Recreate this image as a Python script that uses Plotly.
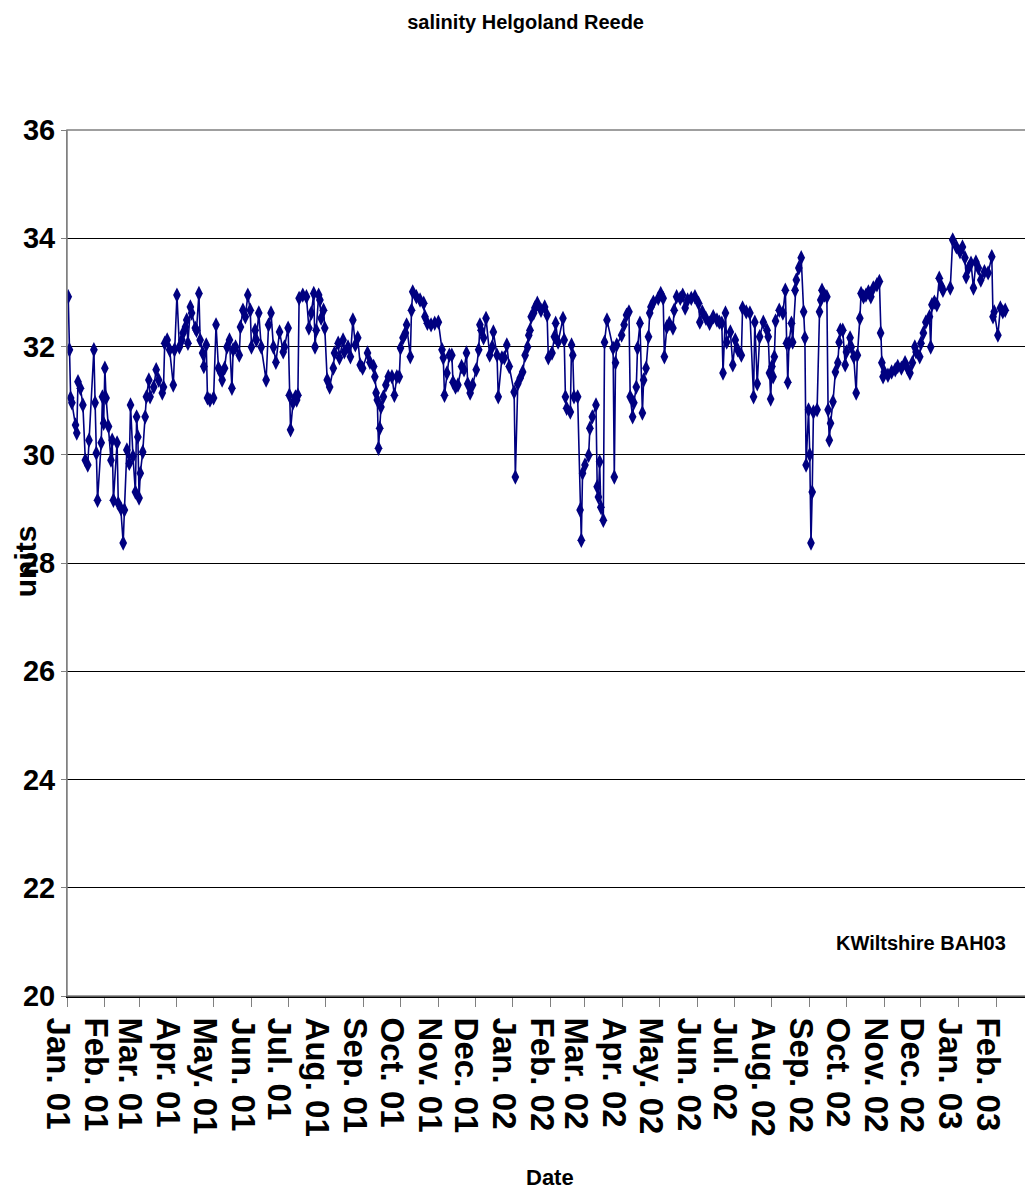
import pandas as pd
import plotly.graph_objects as go

# ---- data ----
start_date = "2001-01-01"
day_offsets = [
    1, 2, 3, 4, 7, 8, 9, 11, 13, 15, 17, 18, 22, 23, 24, 25, 28, 29, 30, 31,
    32, 34, 36, 37, 38, 41, 42, 44, 46, 47, 49, 51, 52, 54, 56, 57, 58, 59, 60, 62,
    64, 65, 67, 68, 71, 73, 75, 78, 79, 80, 82, 84, 87, 88, 90, 92, 94, 95, 97, 98,
    99, 101, 102, 105, 106, 108, 109, 111, 112, 114, 115, 117, 120, 122, 124, 126, 127, 129, 131, 133,
    135, 136, 138, 141, 142, 144, 146, 148, 150, 151, 154, 155, 157, 159, 163, 165, 167, 169, 171, 174,
    177, 178, 181, 182, 183, 185, 187, 188, 189, 190, 193, 196, 198, 200, 202, 203, 204, 206, 207, 208,
    210, 211, 213, 215, 218, 219, 222, 223, 226, 227, 230, 232, 234, 236, 238, 240, 242, 246, 248, 251,
    252, 253, 254, 255, 256, 257, 259, 261, 263, 266, 268, 270, 272, 273, 275, 277, 278, 281, 282, 283,
    286, 289, 292, 293, 295, 298, 301, 304, 307, 308, 309, 311, 313, 315, 316, 318, 320, 323, 325, 327,
    328, 330, 332, 335, 337, 338, 339, 341, 343, 346, 348, 349, 352, 353, 356, 358, 360, 362, 366, 367,
    369, 371, 373, 375, 377, 378, 379, 380, 382, 383, 385, 388, 391, 393, 394, 397, 399, 400, 402, 406,
    407, 408, 409, 412, 413, 414, 415, 418, 420, 421, 422, 424, 427, 428, 430, 433, 434, 435, 436, 437,
    439, 440, 442, 447, 448, 449, 450, 454, 456, 458, 460, 461, 463, 464, 466, 467, 469, 471, 472, 474,
    476, 477, 478, 480, 484, 486, 488, 489, 491, 493, 496, 497, 499, 502, 504, 506, 508, 511, 514, 517,
    518, 520, 523, 526, 529, 532, 534, 536, 537, 539, 540, 543, 545, 547, 549, 552, 553, 556, 559, 562,
    563, 565, 567, 570, 573, 574, 575, 576, 577, 578, 579, 580, 583, 586, 588, 589, 590, 591, 593, 594,
    596, 597, 599, 601, 603, 604, 605, 607, 608, 609, 610, 611, 614, 616, 617, 618, 620, 622, 623, 624,
    625, 627, 629, 631, 632, 633, 635, 637, 638, 641, 642, 644, 646, 647, 649, 650, 652, 654, 656, 658,
    660, 663, 665, 666, 667, 668, 669, 672, 675, 678, 680, 683, 686, 688, 690, 692, 694, 695, 698, 699,
    701, 703, 706, 707, 708, 710, 712, 714, 716, 717, 723, 725, 728, 731, 733, 735, 736, 738, 740, 742,
    744, 746, 748, 751, 754, 757, 758, 759, 762, 764, 766, 768,
]
salinity = [
    32.92, 31.94, 31.05, 30.96, 30.55, 30.40, 31.35, 31.23, 30.92, 29.90, 29.81, 30.27, 31.94, 30.96, 30.03, 29.16, 30.22, 31.07, 30.58, 31.60,
    31.05, 30.52, 29.90, 30.27, 29.16, 30.22, 29.10, 29.01, 28.37, 28.98, 30.09, 29.84, 30.92, 29.97, 29.31, 30.70, 30.33, 29.20, 29.66, 30.05,
    30.70, 31.07, 31.38, 31.07, 31.25, 31.57, 31.38, 31.14, 31.25, 32.06, 32.12, 31.94, 31.29, 31.94, 32.95, 31.99, 32.12, 32.25, 32.36, 32.49,
    32.06, 32.73, 32.62, 32.34, 32.30, 32.98, 32.12, 31.88, 31.63, 32.03, 31.05, 31.01, 31.05, 32.40, 31.60, 31.51, 31.38, 31.60, 31.99, 32.12,
    31.23, 31.94, 31.99, 31.84, 32.36, 32.67, 32.55, 32.95, 32.67, 31.99, 32.30, 32.12, 32.62, 31.99, 31.38, 32.40, 32.62, 31.99, 31.71, 32.27,
    31.90, 31.99, 32.34, 31.10, 30.46, 30.96, 31.07, 31.01, 31.10, 32.89, 32.95, 32.92, 32.34, 32.62, 32.98, 31.99, 32.30, 32.95, 32.86, 32.52,
    32.67, 32.34, 31.38, 31.25, 31.60, 31.88, 32.06, 31.79, 32.12, 31.90, 31.99, 31.81, 32.49, 32.03, 32.16, 31.66, 31.60, 31.88, 31.71, 31.63,
    31.44, 31.14, 31.01, 30.12, 30.49, 30.88, 31.07, 31.29, 31.44, 31.44, 31.10, 31.44, 31.44, 31.97, 32.16, 32.25, 32.40, 31.81, 32.67, 33.01,
    32.92, 32.86, 32.80, 32.55, 32.43, 32.40, 32.43, 32.45, 31.94, 31.79, 31.10, 31.51, 31.84, 31.84, 31.34, 31.25, 31.29, 31.63, 31.57, 31.88,
    31.31, 31.14, 31.29, 31.57, 31.94, 32.40, 32.30, 32.16, 32.52, 31.84, 31.99, 32.27, 31.84, 31.07, 31.79, 31.79, 32.03, 31.63, 31.16, 29.59,
    31.31, 31.42, 31.53, 31.84, 31.99, 32.21, 32.30, 32.55, 32.62, 32.71, 32.80, 32.67, 32.73, 32.58, 31.79, 31.88, 32.18, 32.43, 32.08, 32.52,
    32.12, 31.07, 30.86, 30.79, 32.03, 31.84, 31.07, 31.07, 28.98, 28.42, 29.66, 29.81, 29.99, 30.49, 30.70, 30.92, 29.41, 29.22, 29.87, 29.03,
    28.79, 32.08, 32.49, 31.97, 29.59, 31.70, 32.03, 32.21, 32.40, 32.58, 32.64, 31.07, 30.70, 30.96, 31.25, 31.97, 32.43, 30.77, 31.38, 31.60,
    32.18, 32.62, 32.73, 32.82, 32.89, 32.98, 32.89, 31.81, 32.36, 32.43, 32.34, 32.67, 32.92, 32.89, 32.95, 32.71, 32.86, 32.89, 32.92, 32.80,
    32.45, 32.64, 32.52, 32.43, 32.55, 32.49, 32.45, 32.43, 31.51, 32.62, 32.08, 32.27, 31.66, 32.12, 31.94, 31.84, 32.71, 32.64, 32.62, 31.07,
    32.45, 31.31, 32.18, 32.45, 32.30, 32.18, 31.51, 31.03, 31.63, 31.44, 31.81, 32.47, 32.67, 32.62, 33.04, 32.06, 31.34, 32.06, 32.43, 32.08,
    33.04, 33.23, 33.45, 33.64, 32.64, 32.16, 29.81, 30.83, 30.00, 28.37, 29.31, 30.79, 30.83, 32.64, 32.86, 33.04, 32.95, 32.92, 30.83, 30.27,
    30.58, 30.98, 31.53, 31.70, 32.08, 32.30, 32.30, 31.66, 31.90, 32.16, 31.99, 31.81, 31.14, 31.84, 32.52, 32.98, 32.92, 32.95, 33.01, 32.92,
    33.08, 33.14, 33.20, 32.25, 31.70, 31.44, 31.53, 31.47, 31.53, 31.57, 31.63, 31.60, 31.70, 31.60, 31.51, 31.70, 31.99, 31.90, 31.81, 32.06,
    32.25, 32.45, 32.55, 31.99, 32.77, 32.82, 32.77, 33.26, 33.10, 33.04, 33.08, 33.97, 33.84, 33.75, 33.84, 33.64, 33.29, 33.45, 33.54, 33.08,
    33.56, 33.45, 33.23, 33.38, 33.36, 33.66, 32.55, 32.64, 32.21, 32.71, 32.64, 32.67,
]

title_text = "salinity Helgoland Reede"
y_title = "units"
x_title = "Date"
credit_text = "KWiltshire BAH03"
x_range = ["2001-01-01", "2003-02-25"]
y_range = [20, 36]

dates = pd.Timestamp(start_date) + pd.to_timedelta(day_offsets, unit="D")

navy = "#000080"
font_family = "Liberation Sans, Arial, sans-serif"

fig = go.Figure(
    go.Scatter(
        x=dates,
        y=salinity,
        mode="lines+markers",
        line=dict(color=navy, width=1.6),
        marker=dict(symbol="diamond-tall", size=11, color=navy, line=dict(width=0)),
    )
)

# the page body adds an 8px offset; the figure is sized to fill the window
fig.update_layout(
    width=1025,
    height=1189,
    margin=dict(l=59, r=7, t=122, b=201, autoexpand=False),
    paper_bgcolor="white",
    plot_bgcolor="white",
    showlegend=False,
    title=dict(
        text=title_text,
        x=0.505,
        xanchor="center",
        y=0.988,
        yanchor="middle",
        font=dict(family=font_family, size=20, color="black", weight="bold"),
    ),
)

fig.update_xaxes(
    type="date",
    range=x_range,
    tick0="2001-01-01",
    dtick="M1",
    tickformat="%b. %y",
    tickangle=90,
    ticks="outside",
    ticklen=9,
    tickcolor="#808080",
    ticklabelshift=-9,
    ticklabelstandoff=4,
    tickfont=dict(family=font_family, size=33, color="black", weight="bold"),
    showgrid=False,
    showline=True,
    linecolor="black",
    linewidth=2,
    zeroline=False,
    automargin=False,
)

fig.update_yaxes(
    range=y_range,
    dtick=2,
    tick0=20,
    ticks="outside",
    ticklen=5,
    tickcolor="#808080",
    tickfont=dict(family=font_family, size=29, color="black", weight="bold"),
    showgrid=True,
    gridcolor="black",
    gridwidth=1,
    showline=True,
    linecolor="#808080",
    linewidth=1,
    zeroline=False,
    automargin=False,
)

# plot-area border
fig.add_shape(
    type="rect", xref="paper", yref="paper", x0=0, y0=0, x1=1, y1=1,
    line=dict(color="#808080", width=1.5), layer="above",
)
# small stray mark at the left edge of the reference
fig.add_shape(
    type="line", xref="paper", yref="paper", x0=-0.0667, x1=-0.0667, y0=-0.074, y1=-0.134,
    line=dict(color="black", width=1),
)

fig.add_annotation(
    text=y_title, xref="paper", yref="paper", x=-0.0438, xanchor="center", y=0.502,
    yanchor="middle", textangle=-90,
    showarrow=False, font=dict(family=font_family, size=30, color="black", weight="bold"),
)
fig.add_annotation(
    text=x_title, xref="paper", yref="paper", x=0.504, y=-0.21, yanchor="middle",
    showarrow=False, font=dict(family=font_family, size=22, color="black", weight="bold"),
)
fig.add_annotation(
    text=credit_text, xref="paper", yref="paper", x=0.981, xanchor="right", y=0.061,
    yanchor="middle",
    showarrow=False, font=dict(family=font_family, size=20, color="black", weight="bold"),
)

fig.write_html("out.html")
